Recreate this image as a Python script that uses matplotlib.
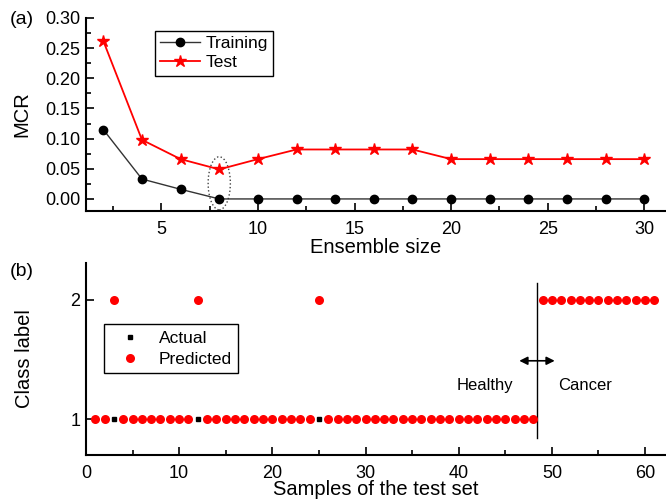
import matplotlib.pyplot as plt
from matplotlib.patches import Ellipse
from matplotlib.ticker import MultipleLocator

plt.rcParams['font.family'] = ['Liberation Sans', 'DejaVu Sans']

# %% data
ens_size = [2, 4, 6, 8, 10, 12, 14, 16, 18, 20, 22, 24, 26, 28, 30]
mcr_train = [0.115, 0.033, 0.016, 0, 0, 0, 0, 0, 0, 0, 0, 0, 0, 0, 0]
mcr_test = [0.262, 0.098, 0.066, 0.049, 0.066, 0.082, 0.082, 0.082, 0.082,
            0.066, 0.066, 0.066, 0.066, 0.066, 0.066]

samples = list(range(1, 62))
actual = [1] * 48 + [2] * 13
predicted = [1, 1, 2, 1, 1, 1, 1, 1, 1, 1, 1, 2, 1, 1, 1, 1, 1, 1, 1, 1,
             1, 1, 1, 1, 2, 1, 1, 1, 1, 1, 1, 1, 1, 1, 1, 1, 1, 1, 1, 1,
             1, 1, 1, 1, 1, 1, 1, 1] + [2] * 13


def origin_style(ax):
    ax.spines['top'].set_visible(False)
    ax.spines['right'].set_visible(False)
    for s in ['left', 'bottom']:
        ax.spines[s].set_linewidth(1.5)
    ax.tick_params(which='both', direction='in', width=1.2, labelsize=13)
    ax.tick_params(which='major', length=6)
    ax.tick_params(which='minor', length=3.5)
    ax.tick_params(axis='x', pad=7)
    ax.tick_params(axis='y', pad=4)


fig = plt.figure(figsize=(6.66, 5), dpi=100)

# %% (a) MCR vs ensemble size
ax1 = fig.add_axes([0.129, 0.578, 0.869, 0.386])
origin_style(ax1)
ax1.plot(ens_size, mcr_train, '-o', color='#333333', mfc='black', mec='black',
         ms=6, lw=1, label='Training')
ax1.plot(ens_size, mcr_test, '-*', color='red', ms=9, lw=1.3, label='Test')
ax1.set_xlim(1.1, 31.05)
ax1.set_ylim(-0.02, 0.30)
ax1.xaxis.set_major_locator(MultipleLocator(5))
ax1.xaxis.set_minor_locator(MultipleLocator(2.5))
ax1.yaxis.set_major_locator(MultipleLocator(0.05))
ax1.yaxis.set_minor_locator(MultipleLocator(0.025))
ax1.yaxis.set_major_formatter(plt.FormatStrFormatter('%.2f'))
ax1.set_xlabel('Ensemble size', fontsize=14.5, labelpad=0)
ax1.set_ylabel('MCR', fontsize=14.5, labelpad=10)
ax1.add_patch(Ellipse((8, 0.026), 1.15, 0.088, fill=False, ls=':', lw=1, color='#444444'))
leg = ax1.legend(loc='upper left', bbox_to_anchor=(0.119, 0.935), fontsize=12.5,
                 fancybox=False, framealpha=1, edgecolor='black',
                 handlelength=2.3, handletextpad=0.3, borderpad=0.3,
                 labelspacing=0.25, borderaxespad=0)
leg.get_frame().set_linewidth(1)
fig.text(0.015, 0.962, '(a)', fontsize=14, ha='left', va='center')

# %% (b) class labels of the test set
ax2 = fig.add_axes([0.129, 0.09, 0.869, 0.384])
origin_style(ax2)
ax2.plot(samples, actual, 's', color='black', ms=2.5, label='Actual', zorder=2)
ax2.plot(samples, predicted, 'o', color='red', ms=6.5, mec='none', label='Predicted', zorder=3)
ax2.set_xlim(0, 62.1)
ax2.set_ylim(0.7, 2.31)
ax2.set_yticks([1, 2])
ax2.xaxis.set_major_locator(MultipleLocator(10))
ax2.xaxis.set_minor_locator(MultipleLocator(5))
ax2.set_xlabel('Samples of the test set', fontsize=14.5, labelpad=-1)
ax2.set_ylabel('Class label', fontsize=14.5, labelpad=26)
ax2.plot([48.4, 48.4], [0.84, 2.14], color='black', lw=1)
ax2.annotate('', xy=(46.5, 1.49), xytext=(50.3, 1.49),
             arrowprops=dict(arrowstyle='<|-|>', color='black', lw=1.2,
                             mutation_scale=12, shrinkA=0, shrinkB=0))
ax2.text(42.8, 1.28, 'Healthy', fontsize=12, ha='center', va='center')
ax2.text(53.6, 1.28, 'Cancer', fontsize=12, ha='center', va='center')
leg2 = ax2.legend(loc='upper left', bbox_to_anchor=(0.032, 0.68), fontsize=12.5,
                  fancybox=False, framealpha=1, edgecolor='black',
                  handlelength=2.2, handletextpad=0.6, borderpad=0.35,
                  labelspacing=0.35, borderaxespad=0, markerscale=1)
leg2.get_frame().set_linewidth(1)
fig.text(0.015, 0.458, '(b)', fontsize=14, ha='left', va='center')

fig.savefig('out.png', dpi=100)
